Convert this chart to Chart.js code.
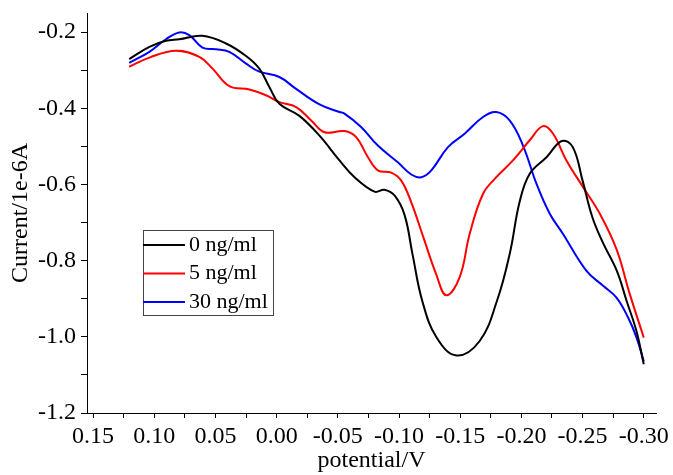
<!DOCTYPE html>
<html>
<head>
<meta charset="utf-8">
<script src="https://cdn.jsdelivr.net/npm/chart.js@4"></script>
<style>
  html, body { margin: 0; padding: 0; background: #fff; }
  #wrap { width: 673px; height: 475px; }
</style>
</head>
<body>
<div id="wrap"><canvas id="myChart" width="673" height="475"></canvas></div>
<script>
// series labels and colours
const seriesLabels = ["0 ng/ml", "5 ng/ml", "30 ng/ml"];
const seriesColors = ["#000000", "#ff0000", "#0000ff"];

// 0 ng/ml
const potential0 = [0.1205, 0.104, 0.0905, 0.0796, 0.0608, 0.0414, 0.025, 0.0142, 0.006, -0.0022,
  -0.0186, -0.035, -0.0513, -0.0636, -0.080, -0.088, -0.0963, -0.1045, -0.111, -0.119,
  -0.1307, -0.147, -0.1659, -0.180, -0.1904, -0.1986, -0.2068, -0.2207, -0.233, -0.242,
  -0.250, -0.258, -0.2665, -0.278, -0.286, -0.294, -0.300];
const current0 = [-0.271, -0.239, -0.223, -0.219, -0.210, -0.230, -0.263, -0.296, -0.344, -0.388,
  -0.420, -0.472, -0.537, -0.581, -0.619, -0.614, -0.629, -0.680, -0.783, -0.906,
  -1.002, -1.049, -1.011, -0.906, -0.783, -0.645, -0.572, -0.528, -0.486, -0.502,
  -0.590, -0.686, -0.752, -0.827, -0.906, -0.985, -1.072];

// 5 ng/ml
const potential5 = [0.1205, 0.104, 0.0823, 0.0633, 0.0524, 0.0387, 0.0223, 0.0087, -0.0022, -0.0159,
  -0.0282, -0.039, -0.0554, -0.065, -0.0745, -0.0827, -0.0936, -0.1018, -0.110, -0.1195,
  -0.1304, -0.1386, -0.1495, -0.1577, -0.1686, -0.1795, -0.1931, -0.2068, -0.2177, -0.2259,
  -0.2368, -0.2504, -0.2641, -0.2777, -0.2886, -0.300];
const current5 = [-0.291, -0.267, -0.249, -0.265, -0.296, -0.342, -0.351, -0.366, -0.384, -0.397,
  -0.432, -0.463, -0.460, -0.476, -0.528, -0.563, -0.569, -0.590, -0.647, -0.735,
  -0.836, -0.891, -0.844, -0.730, -0.625, -0.581, -0.537, -0.484, -0.447, -0.467,
  -0.537, -0.607, -0.677, -0.770, -0.888, -1.002];

// 30 ng/ml
const potential30 = [0.1205, 0.104, 0.0905, 0.0796, 0.0714, 0.0606, 0.0496, 0.0387, 0.025, 0.0142,
  -0.0022, -0.0153, -0.035, -0.0513, -0.0554, -0.069, -0.0827, -0.099, -0.110, -0.1182,
  -0.1264, -0.140, -0.1536, -0.1686, -0.1795, -0.1904, -0.2013, -0.2123, -0.2232, -0.234,
  -0.2532, -0.2668, -0.2777, -0.2873, -0.2941, -0.300];
const current30 = [-0.281, -0.252, -0.219, -0.201, -0.208, -0.241, -0.245, -0.252, -0.283, -0.304,
  -0.318, -0.348, -0.390, -0.410, -0.414, -0.449, -0.498, -0.542, -0.574, -0.581,
  -0.563, -0.502, -0.467, -0.423, -0.410, -0.432, -0.498, -0.598, -0.677, -0.730,
  -0.827, -0.866, -0.897, -0.950, -1.002, -1.064];

// axis ranges and tick steps
const xMin = -0.31, xMax = 0.155, xStep = 0.025, xLabelStep = 0.05;
const yMin = -1.2, yMax = -0.15, yStep = 0.1, yLabelStep = 0.2;

const FONT = "'Liberation Serif', 'Times New Roman', serif";

function toPoints(xs, ys) {
  return xs.map((x, i) => ({ x: x, y: ys[i] }));
}

function onStep(v, step) {
  const r = v / step;
  return Math.abs(r - Math.round(r)) < 1e-6;
}

// ticks at every multiple of step inside [min, max]
function stepTicks(min, max, step) {
  const out = [];
  for (let i = Math.ceil(min / step - 1e-9); i * step <= max + 1e-9; i++) {
    out.push({ value: +(i * step).toFixed(4) });
  }
  return out;
}

const boxLegend = {
  id: "boxLegend",
  afterDraw(chart) {
    const ctx = chart.ctx;
    const area = chart.chartArea;
    const left = area.left + 56, top = area.top + 217;
    const w = 130, h = 85, rowH = 28.5, lineLen = 42;
    ctx.save();
    ctx.fillStyle = "#fff";
    ctx.fillRect(left, top, w, h);
    ctx.strokeStyle = "#444";
    ctx.lineWidth = 1;
    ctx.strokeRect(left + 0.5, top + 0.5, w, h);
    ctx.font = "22px " + FONT;
    ctx.textBaseline = "middle";
    chart.data.datasets.forEach((ds, i) => {
      const y = top + 15 + i * rowH;
      ctx.strokeStyle = ds.borderColor;
      ctx.lineWidth = 2;
      ctx.beginPath();
      ctx.moveTo(left, y);
      ctx.lineTo(left + lineLen, y);
      ctx.stroke();
      ctx.fillStyle = "#000";
      ctx.fillText(ds.label, left + lineLen + 4, y);
    });
    ctx.restore();
  }
};

const series = [
  toPoints(potential0, current0),
  toPoints(potential5, current5),
  toPoints(potential30, current30)
];

const ctx = document.getElementById("myChart").getContext("2d");
new Chart(ctx, {
  type: "line",
  data: {
    datasets: series.map((pts, i) => ({
      label: seriesLabels[i],
      data: pts,
      borderColor: seriesColors[i],
      backgroundColor: seriesColors[i],
      borderWidth: 2,
      pointRadius: 0,
      fill: false,
      tension: 0.4
    }))
  },
  options: {
    responsive: false,
    animation: false,
    events: [],
    layout: { padding: { top: 13, right: 17, left: 0, bottom: 0 } },
    plugins: { legend: { display: false }, tooltip: { enabled: false } },
    scales: {
      x: {
        type: "linear",
        reverse: true,
        min: xMin,
        max: xMax,
        afterBuildTicks(scale) {
          scale.ticks = stepTicks(xMin, xMax, xStep);
        },
        afterFit(scale) {
          scale.height = 62;
          scale.paddingLeft = 0;
          scale.paddingRight = 0;
        },
        grid: { display: true, drawOnChartArea: false, drawTicks: true, tickLength: 5, tickColor: "#000", lineWidth: 1 },
        border: { display: true, color: "#000", width: 1 },
        ticks: {
          autoSkip: false,
          maxRotation: 0,
          padding: 4,
          color: "#000",
          font: { family: FONT, size: 24 },
          callback: v => onStep(v, xLabelStep) ? (Math.abs(v) < 1e-9 ? "0.00" : v.toFixed(2)) : ""
        },
        title: { display: true, text: "potential/V", color: "#000", font: { family: FONT, size: 24 }, padding: { top: -2, bottom: 0 } }
      },
      y: {
        type: "linear",
        min: yMin,
        max: yMax,
        afterBuildTicks(scale) {
          scale.ticks = stepTicks(yMin, yMax, yStep);
        },
        afterFit(scale) {
          scale.width = 87;
          scale.paddingTop = 0;
          scale.paddingBottom = 0;
        },
        grid: { display: true, drawOnChartArea: false, drawTicks: true, tickLength: 6, tickColor: "#000", lineWidth: 1 },
        border: { display: true, color: "#000", width: 1 },
        ticks: {
          autoSkip: false,
          padding: 5,
          color: "#000",
          font: { family: FONT, size: 24 },
          callback: v => onStep(v, yLabelStep) ? v.toFixed(1) : ""
        },
        title: { display: true, text: "Current/1e-6A", color: "#000", font: { family: FONT, size: 24 }, padding: { top: 6, bottom: 0 } }
      }
    }
  },
  plugins: [boxLegend]
});
</script>
</body>
</html>
